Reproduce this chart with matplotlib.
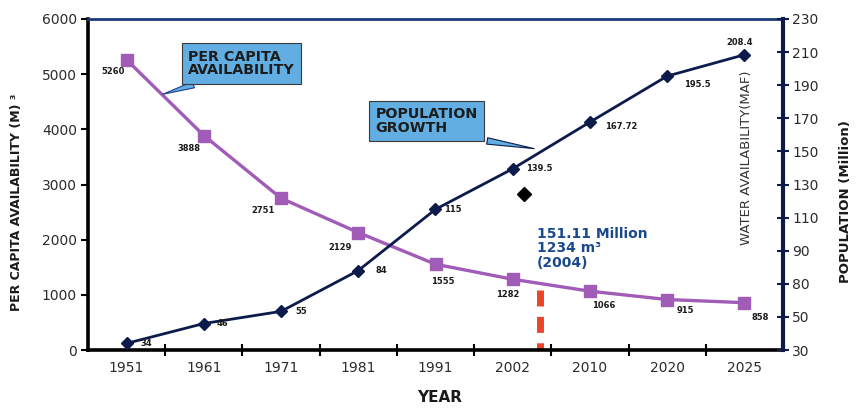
import matplotlib

matplotlib.use("Agg")

import matplotlib.pyplot as plt
import numpy as np

# Water availability per capita vs population growth
years = ["1951", "1961", "1971", "1981", "1991", "2002", "2010", "2020", "2025"]
per_capita = [5260, 3888, 2751, 2129, 1555, 1282, 1066, 915, 858]
population = [34, 46, 55, 84, 115, 139.5, 167.72, 195.5, 208.4]
pop_labels = ["34", "46", "55", "84", "115", "139.5", "167.72", "195.5", "208.4"]
right_ticks = [30, 50, 80, 90, 110, 130, 150, 170, 190, 210, 230]

# 2004 marker: position between 2002 and 2010, population value
marker_2004_x = 5.15
marker_2004_pop = 124
line_2004_x = 5.35
line_2004_top = 1080

PURPLE = "#a05cb6"
NAVY = "#0c1b4c"
BOX = "#62aee2"
TICK_GRAY = "#2b2b2b"

# label offsets in pixels (dx, dy), dy positive = downward
cap_offsets = [(-14, 12), (-15, 13), (-18, 12), (-18, 15), (7, 17),
               (-5, 15), (14, 14), (18, 11), (16, 15)]
pop_offsets = [(20, 0), (19, 0), (20, 0), (23, 0), (17, 0),
               (27, 0), (31, 4), (30, 8), (-5, -12)]


def fwd(v):
    return np.interp(v, right_ticks, np.arange(len(right_ticks)))


def inv(p):
    return np.interp(p, np.arange(len(right_ticks)), right_ticks)


fig = plt.figure(figsize=(8.56, 4.08), dpi=100)
ax = fig.add_axes([88 / 856, 1 - 350 / 408, 695 / 856, 331 / 408])
ax2 = ax.twinx()

x = np.arange(len(years))

ax.plot(x, per_capita, color=PURPLE, lw=2.4, marker="s", ms=9,
        mec=PURPLE, mfc=PURPLE, zorder=3, clip_on=False)
for xi, v, (dx, dy) in zip(x, per_capita, cap_offsets):
    ax.annotate(f"{v}", (xi, v), xytext=(dx, -dy), textcoords="offset pixels",
                ha="center", va="center", fontsize=6, fontweight="bold",
                color="#1a1a1a")

# dashed marker for 2004, drawn top-down so the first dash is whole
ax.plot([line_2004_x, line_2004_x], [line_2004_top, 0], color="#ec4428",
        lw=5, ls=(0, (2.3, 1.5)), solid_capstyle="butt", zorder=2)

ax.set_xlim(-0.5, 8.5)
ax.set_ylim(0, 6000)
ax.set_yticks(np.arange(0, 6001, 1000))
ax.set_xticks(x, years)
ax.set_xticks(x[:-1] + 0.5, minor=True)
ax.tick_params(axis="x", which="major", length=0, pad=8, labelsize=10,
               labelcolor=TICK_GRAY)
ax.tick_params(axis="x", which="minor", direction="inout", length=8, width=1.5,
               color="black")
ax.tick_params(axis="y", direction="out", length=5, width=1.5, pad=3,
               labelsize=10, labelcolor=TICK_GRAY)

ax2.set_yscale("function", functions=(fwd, inv))
ax2.set_ylim(30, 230)
ax2.set_yticks(right_ticks)
ax2.set_yticklabels([str(t) for t in right_ticks])
ax2.yaxis.set_minor_locator(matplotlib.ticker.NullLocator())
ax2.tick_params(axis="y", direction="inout", length=9, width=1.5, pad=2,
                labelsize=10, labelcolor=TICK_GRAY, color=NAVY)

ax2.plot(x, population, color=NAVY, lw=2, marker="D", ms=6.5,
         mec=NAVY, mfc=NAVY, zorder=3, clip_on=False)
for xi, v, lab, (dx, dy) in zip(x, population, pop_labels, pop_offsets):
    ax2.annotate(lab, (xi, v), xytext=(dx, -dy), textcoords="offset pixels",
                 ha="center", va="center", fontsize=6, fontweight="bold",
                 color="#1a1a1a")
ax2.plot([marker_2004_x], [marker_2004_pop], marker="D", ms=7, color="black",
         ls="none")

for s in ["left", "bottom"]:
    ax.spines[s].set_linewidth(2.6)
    ax.spines[s].set_color("black")
ax.spines["top"].set_linewidth(2)
ax.spines["top"].set_color("#1b3b7a")
ax.spines["right"].set_visible(False)
for s in ["left", "bottom", "top"]:
    ax2.spines[s].set_visible(False)
ax2.spines["right"].set_linewidth(3)
ax2.spines["right"].set_color(NAVY)

box_style = dict(boxstyle="square,pad=0.45", fc=BOX, ec="#3a3a3a", lw=0.8)
ax2.annotate("PER CAPITA\nAVAILABILITY", xy=(0.1036, 0.770),
             xycoords="axes fraction", xytext=(0.221, 0.866),
             textcoords="axes fraction", ha="center", va="center",
             multialignment="left", fontsize=10.3, fontweight="bold",
             color="#1c1c1c", linespacing=0.95, bbox=box_style, zorder=6,
             arrowprops=dict(arrowstyle="wedge,tail_width=0.45", fc=BOX,
                             ec="#1f3f8a", lw=0.8, relpos=(0.28, 0.0)))
ax2.annotate("POPULATION\nGROWTH", xy=(0.646, 0.607),
             xycoords="axes fraction", xytext=(0.487, 0.692),
             textcoords="axes fraction", ha="center", va="center",
             multialignment="left", fontsize=10.3, fontweight="bold",
             color="#1c1c1c", linespacing=0.95, bbox=box_style, zorder=6,
             arrowprops=dict(arrowstyle="wedge,tail_width=0.45", fc=BOX,
                             ec="#0c1b4c", lw=0.8, relpos=(0.72, 0.0)))

ax2.text(0.646, 0.372, "151.11 Million\n1234 m³\n(2004)",
         transform=ax2.transAxes, ha="left", va="top", fontsize=10,
         fontweight="bold", color="#1a4a8c", linespacing=1.05)

ax2.text(0.948, 0.58, "WATER AVAILABILITY(MAF)", transform=ax2.transAxes,
         rotation=90, ha="center", va="center", fontsize=9.5, color="#333333")

fig.text(17 / 856, 1 - 202 / 408, "PER CAPITA AVAILABILITY (M) ³", rotation=90,
         ha="center", va="center", fontsize=9, fontweight="bold",
         color="#1a1a1a")
fig.text(846 / 856, 1 - 202 / 408, "POPULATION (Million)", rotation=90,
         ha="center", va="center", fontsize=9.5, fontweight="bold",
         color="#1a1a1a")
fig.text(440 / 856, 1 - 398 / 408, "YEAR", ha="center", va="center",
         fontsize=11, fontweight="bold", color="#1a1a1a")

fig.savefig("out.png", dpi=100)
